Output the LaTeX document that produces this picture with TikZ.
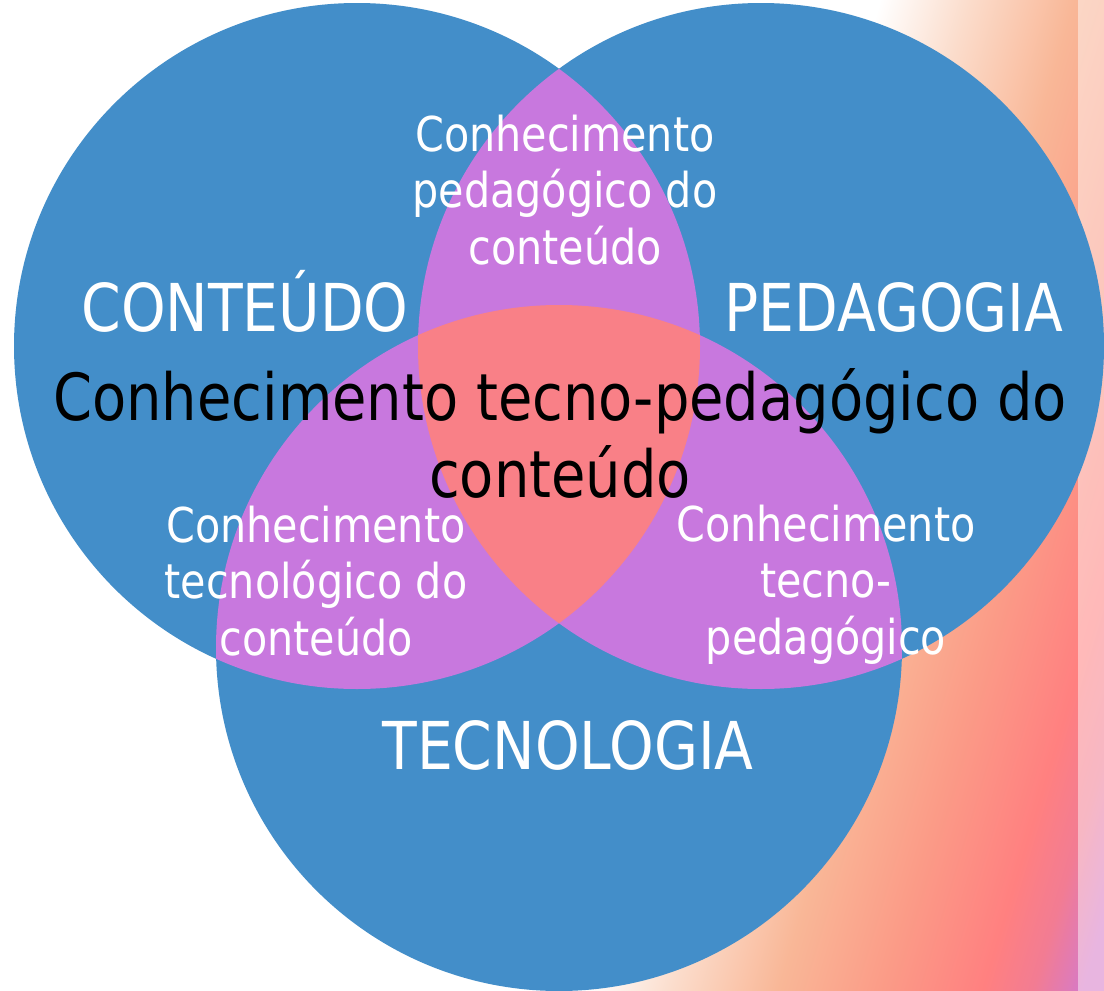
\documentclass[tikz,border=0pt]{standalone}
\usepackage{fontspec}
\newfontfamily\tahomalike[FakeStretch=0.86]{DejaVu Sans}
\definecolor{circblue}{HTML}{438EC9}
\definecolor{pairlilac}{HTML}{C878DE}
\definecolor{coresalmon}{HTML}{F98087}
\definecolor{gA}{HTML}{FBDCCB}
\definecolor{gB}{HTML}{F9B797}
\definecolor{gC}{HTML}{FB9B87}
\definecolor{gD}{HTML}{FF8080}
\definecolor{gE}{HTML}{F27C93}
\definecolor{gF}{HTML}{D67AC8}
\pgfdeclarehorizontalshading{bgshade}{100bp}{color(0bp)=(white); color(25bp)=(white); color(33.49bp)=(gA); color(43.4bp)=(gB); color(53.3bp)=(gC); color(62.74bp)=(gD); color(67.46bp)=(gE); color(72.16bp)=(gF); color(75bp)=(gF); color(100bp)=(gF)}
\begin{document}
\begin{tikzpicture}[x=1pt,y=-1pt,
  bigwhite/.style={inner sep=0pt,anchor=base,text=white,font=\tahomalike\fontsize{66}{79}\selectfont},
  smallwhite/.style={inner sep=0pt,anchor=base,text=white,align=center,font=\tahomalike\fontsize{48}{56.5}\selectfont},
  coretext/.style={inner sep=0pt,anchor=base,text=black,align=center,font=\tahomalike\fontsize{65}{77}\selectfont}]
\useasboundingbox (0,0) rectangle (1104,991);
\fill[white] (0,0) rectangle (1104,991);
% background gradient
\begin{scope}
  \clip (0,0) rectangle (1104,991);
  \begin{scope}[transform canvas={rotate=-16.7}]
    \shade[shading=bgshade] (842.9,-3000) rectangle (1350.6,3000);
  \end{scope}
\end{scope}
\fill[white,opacity=0.45] (1078,0) rectangle (1104,991);
% circles
\coordinate (cc) at (357,346);
\coordinate (cp) at (761,346);
\coordinate (ct) at (559,648);
\fill[circblue] (cc) circle[radius=343];
\fill[circblue] (cp) circle[radius=343];
\fill[circblue] (ct) circle[radius=343];
\begin{scope}
  \clip (cc) circle[radius=343];
  \fill[pairlilac] (cp) circle[radius=343];
  \fill[pairlilac] (ct) circle[radius=343];
\end{scope}
\begin{scope}
  \clip (cp) circle[radius=343];
  \fill[pairlilac] (ct) circle[radius=343];
\end{scope}
\begin{scope}
  \clip (cc) circle[radius=343];
  \clip (cp) circle[radius=343];
  \fill[coresalmon] (ct) circle[radius=343];
\end{scope}
% labels (base anchor = baseline of last line)
\node[bigwhite] (lconteudo) at (245,331) {CONTEÚDO};
\node[bigwhite] (lpedagogia) at (894,331) {PEDAGOGIA};
\node[bigwhite] (ltecnologia) at (568,769) {TECNOLOGIA};
\node[smallwhite] (lpc) at (565,264) {Conhecimento\\pedagógico do\\conteúdo};
\node[smallwhite] (ltc) at (316,655) {Conhecimento\\tecnológico do\\conteúdo};
\node[smallwhite] (ltp) at (826,654) {Conhecimento\\tecno-\\pedagógico};
\node[coretext] (ltpc) at (560,497) {Conhecimento tecno-pedagógico do\\conteúdo};
\end{tikzpicture}
\end{document}
